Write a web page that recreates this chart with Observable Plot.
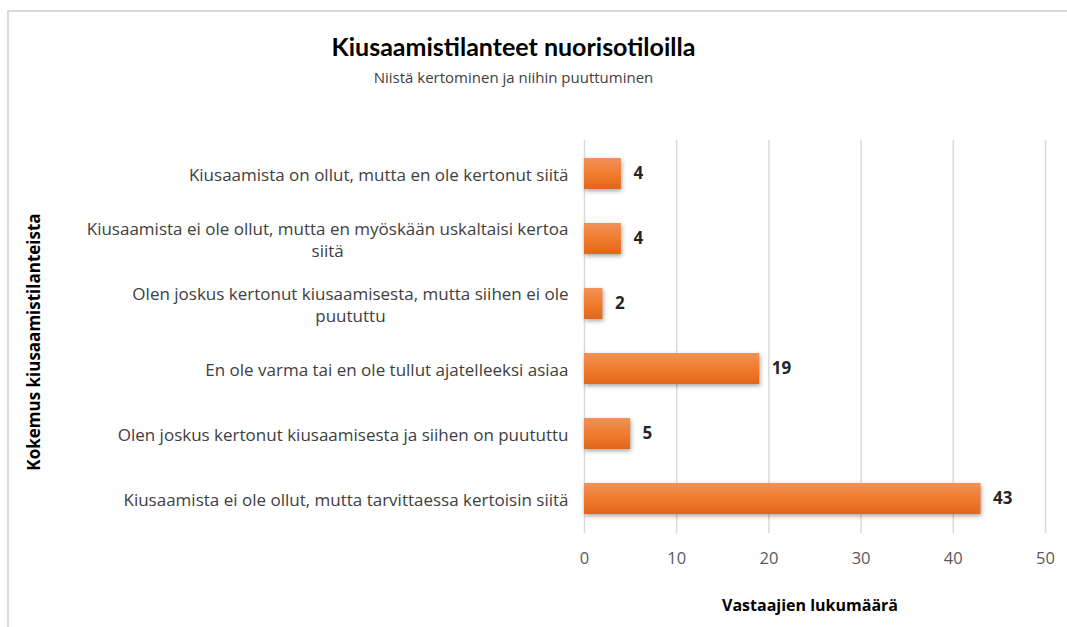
<!DOCTYPE html>
<html>
<head>
<meta charset="utf-8">
<script src="https://cdn.jsdelivr.net/npm/d3@7"></script>
<script src="https://cdn.jsdelivr.net/npm/@observablehq/plot@0.6"></script>
<style>
  html, body { margin: 0; padding: 0; background: #fff; overflow: hidden; }
  #wrap { position: relative; width: 1067px; height: 627px; overflow: hidden; font-family: "Open Sans", sans-serif; }
  #frame { position: absolute; left: 7px; top: 10px; width: 1200px; height: 800px; border-top: 2px solid #d9d9d9; border-left: 2px solid #d9d9d9; }
  #title { position: absolute; left: 0; width: 1027px; top: 31px; text-align: center; font-family: Lato, sans-serif; font-size: 25px; font-weight: bold; color: #000; }
  #subtitle { position: absolute; left: 0; width: 1027px; top: 67px; text-align: center; font-size: 15px; color: #404040; }
  #ylab { position: absolute; left: 33px; top: 342px; transform: translate(-50%, -50%) rotate(-90deg); white-space: nowrap; font-size: 17px; font-weight: bold; color: #000; }
  #xlab { position: absolute; left: 810px; top: 605px; transform: translate(-50%, -50%); white-space: nowrap; font-size: 16px; font-weight: bold; color: #000; }
  #chart { position: absolute; left: 0; top: 0; }
  .bars rect { filter: drop-shadow(1px 2px 2px rgba(0,0,0,0.35)); }
</style>
</head>
<body>
<div id="wrap">
  <div id="frame"></div>
  <div id="chart"></div>
  <div id="title"></div>
  <div id="subtitle"></div>
  <div id="ylab"></div>
  <div id="xlab"></div>
</div>
<script>
const titleText = "Kiusaamistilanteet nuorisotiloilla";
const subtitleText = "Niistä kertominen ja niihin puuttuminen";
const yTitle = "Kokemus kiusaamistilanteista";
const xTitle = "Vastaajien lukumäärä";

const categories = [
  "Kiusaamista on ollut, mutta en ole kertonut siitä",
  "Kiusaamista ei ole ollut, mutta en myöskään uskaltaisi kertoa siitä",
  "Olen joskus kertonut kiusaamisesta, mutta siihen ei ole puututtu",
  "En ole varma tai en ole tullut ajatelleeksi asiaa",
  "Olen joskus kertonut kiusaamisesta ja siihen on puututtu",
  "Kiusaamista ei ole ollut, mutta tarvittaessa kertoisin siitä"
];
const values = [4, 4, 2, 19, 5, 43];
const xTicks = [0, 10, 20, 30, 40, 50];

document.getElementById("title").textContent = titleText;
document.getElementById("subtitle").textContent = subtitleText;
document.getElementById("ylab").textContent = yTitle;
document.getElementById("xlab").textContent = xTitle;

const data = categories.map((c, i) => ({cat: c, value: values[i]}));

const labelSize = 17;
const ctx = document.createElement("canvas").getContext("2d");
ctx.font = `${labelSize}px "Open Sans"`;
function wrapLines(s, maxW) {
  const words = s.split(" ");
  const lines = [];
  let cur = "";
  for (const w of words) {
    const t = cur ? cur + " " + w : w;
    if (ctx.measureText(t).width > maxW && cur) { lines.push(cur); cur = w; }
    else cur = t;
  }
  if (cur) lines.push(cur);
  return lines;
}

const labelMarks = data.map(d => {
  const lines = wrapLines(d.cat, 490);
  const w = Math.max(...lines.map(l => ctx.measureText(l).width));
  return Plot.text([d], {
    y: "cat", frameAnchor: "left", textAnchor: "middle",
    dx: -16 - w / 2, text: () => lines.join("\n"),
    fontSize: labelSize, fill: "#404040", lineHeight: 1.3
  });
});

const chart = Plot.plot({
  width: 1067,
  height: 627,
  marginLeft: 584,
  marginRight: 22,
  marginTop: 140,
  marginBottom: 94,
  style: {fontFamily: "'Open Sans', sans-serif", background: "transparent"},
  x: {domain: [0, 50], ticks: xTicks},
  y: {domain: categories, paddingInner: 0.52, paddingOuter: 0.26},
  marks: [
    Plot.ruleX(xTicks, {stroke: "#d9d9d9", strokeWidth: 1.5}),
    Plot.axisX({ticks: xTicks, tickSize: 0, tickPadding: 19, fontSize: 16.5, color: "#595959", label: null}),
    Plot.axisY({ticks: [], label: null, tickSize: 0}),
    Plot.barX(data, {x: "value", y: "cat", fill: "url(#barGrad)", className: "bars"}),
    Plot.text(data, {x: "value", y: "cat", text: d => String(d.value), textAnchor: "start", dx: 12, fontSize: 17, fontWeight: "bold", fill: "#262626"}),
    ...labelMarks
  ]
});

const ns = "http://www.w3.org/2000/svg";
const defs = document.createElementNS(ns, "defs");
defs.innerHTML = `<linearGradient id="barGrad" x1="0" y1="0" x2="0" y2="1">
  <stop offset="0" stop-color="#f2915a"/>
  <stop offset="0.5" stop-color="#f07c2e"/>
  <stop offset="1" stop-color="#e0671b"/>
</linearGradient>`;
chart.insertBefore(defs, chart.firstChild);
document.getElementById("chart").appendChild(chart);
</script>
</body>
</html>
